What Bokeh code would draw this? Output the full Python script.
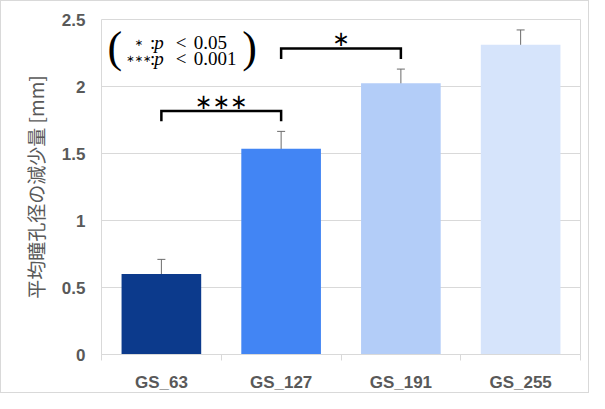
from bokeh.plotting import figure
from bokeh.models import (Range1d, FixedTicker, NumeralTickFormatter, Whisker,
                          ColumnDataSource, TeeHead)
from bokeh.core.properties import value
from bokeh.embed import file_html
from bokeh.resources import INLINE

# ---- data -------------------------------------------------------------
categories = ["GS_63", "GS_127", "GS_191", "GS_255"]
means = [0.60, 1.535, 2.025, 2.312]
errors = [0.11, 0.13, 0.105, 0.11]
colors = ["#0c3a8c", "#4285f4", "#b3cdf8", "#d6e4fb"]
y_ticks = [0, 0.5, 1, 1.5, 2, 2.5]
comparisons = [(0, 1, "∗∗∗"), (1, 2, "∗")]
legend_marks = ["∗", "∗∗∗"]
legend_pvals = ["0.05", "0.001"]
y_title = "平均瞳孔径の減少量 [mm]"

xs = list(range(len(categories)))
upper = [m + e for m, e in zip(means, errors)]
lower = [m - e for m, e in zip(means, errors)]

GRID = "#d9d9d9"
TXT = "#595959"

p = figure(width=589, height=393, output_backend="svg", toolbar_location=None,
           x_range=Range1d(-0.5, len(categories) - 0.5), y_range=Range1d(0, 2.5),
           min_border_left=100, min_border_right=10, min_border_top=18,
           min_border_bottom=38)
p.outline_line_color = GRID
p.background_fill_color = "white"
p.border_fill_color = "white"
p.styles = {"border": "1px solid #d9d9d9", "box-sizing": "border-box"}

src = ColumnDataSource(dict(x=xs, top=means, color=colors, upper=upper, lower=lower))
p.vbar(x="x", top="top", width=0.665, fill_color="color", line_color=None, source=src)

head_u = TeeHead(size=8, line_color="#6b6b6b", line_width=1)
head_l = TeeHead(size=8, line_color="#6b6b6b", line_width=1)
p.add_layout(Whisker(base="x", upper="upper", lower="lower", source=src,
                     line_color="#6b6b6b", line_width=1,
                     upper_head=head_u, lower_head=head_l))

# significance brackets
for i, j, mark in comparisons:
    end_y = max(upper[i], upper[j]) + 0.075
    line_y = end_y + 0.078
    p.line(x=[xs[i], xs[i], xs[j], xs[j]], y=[end_y, line_y, line_y, end_y],
           line_color="black", line_width=2.5, line_join="miter")
    p.text(x=[(xs[i] + xs[j]) / 2], y=[line_y + 0.07], text=[mark],
           text_align="center", text_baseline="middle",
           text_font=value("DejaVu Sans"), text_font_size="21px", text_color="black")

# legend box ( * : p < 0.05 / *** : p < 0.001 )
serif = value("Liberation Serif")
p.text(x=[-0.388, 0.736], y=[2.288, 2.288], text=["(", ")"], text_align="center",
       text_baseline="middle", text_font=serif, text_font_size="44px", text_color="black")
ly = [2.332, 2.208]
p.text(x=[-0.19] * 2, y=ly, text=legend_marks, text_align="center",
       text_baseline="middle", text_font=value("DejaVu Sans"), text_font_size="10px",
       text_color="black")
p.text(x=[-0.095] * 2, y=ly, text=[":", ":"], text_align="left", text_baseline="middle",
       text_font=serif, text_font_size="19px", text_color="black")
p.text(x=[-0.06] * 2, y=ly, text=["p", "p"], text_align="left", text_baseline="middle",
       text_font=serif, text_font_style="italic", text_font_size="19px", text_color="black")
p.text(x=[0.165] * 2, y=ly, text=["<", "<"], text_align="center", text_baseline="middle",
       text_font=serif, text_font_size="19px", text_color="black")
p.text(x=[0.27] * 2, y=ly, text=legend_pvals, text_align="left", text_baseline="middle",
       text_font=serif, text_font_size="19px", text_color="black")

# axes
p.xgrid.visible = False
p.ygrid.ticker = FixedTicker(ticks=y_ticks)
p.ygrid.grid_line_color = GRID

xa = p.xaxis[0]
xa.ticker = FixedTicker(ticks=xs, minor_ticks=[x - 0.5 for x in xs] + [xs[-1] + 0.5])
xa.major_label_overrides = {x: c for x, c in zip(xs, categories)}
xa.major_tick_out = 0
xa.major_tick_in = 0
xa.major_tick_line_color = None
xa.minor_tick_out = 6
xa.minor_tick_in = 0
xa.minor_tick_line_color = GRID
xa.axis_line_color = GRID
xa.major_label_standoff = 12

ya = p.yaxis[0]
ya.ticker = FixedTicker(ticks=y_ticks)
ya.formatter = NumeralTickFormatter(format="0.[0]")
ya.axis_line_color = None
ya.major_tick_line_color = None
ya.minor_tick_line_color = None
ya.major_tick_out = 0
ya.major_tick_in = 0
ya.major_label_standoff = 16
ya.axis_label = y_title
ya.axis_label_standoff = 10
ya.axis_label_text_font = "Noto Sans CJK JP"
ya.axis_label_text_font_style = "normal"
ya.axis_label_text_font_size = "19px"
ya.axis_label_text_color = TXT

for ax in (xa, ya):
    ax.major_label_text_font = "Liberation Sans"
    ax.major_label_text_font_style = "bold"
    ax.major_label_text_font_size = "17px"
    ax.major_label_text_color = TXT

open("out.html", "w").write(file_html(p, INLINE))
